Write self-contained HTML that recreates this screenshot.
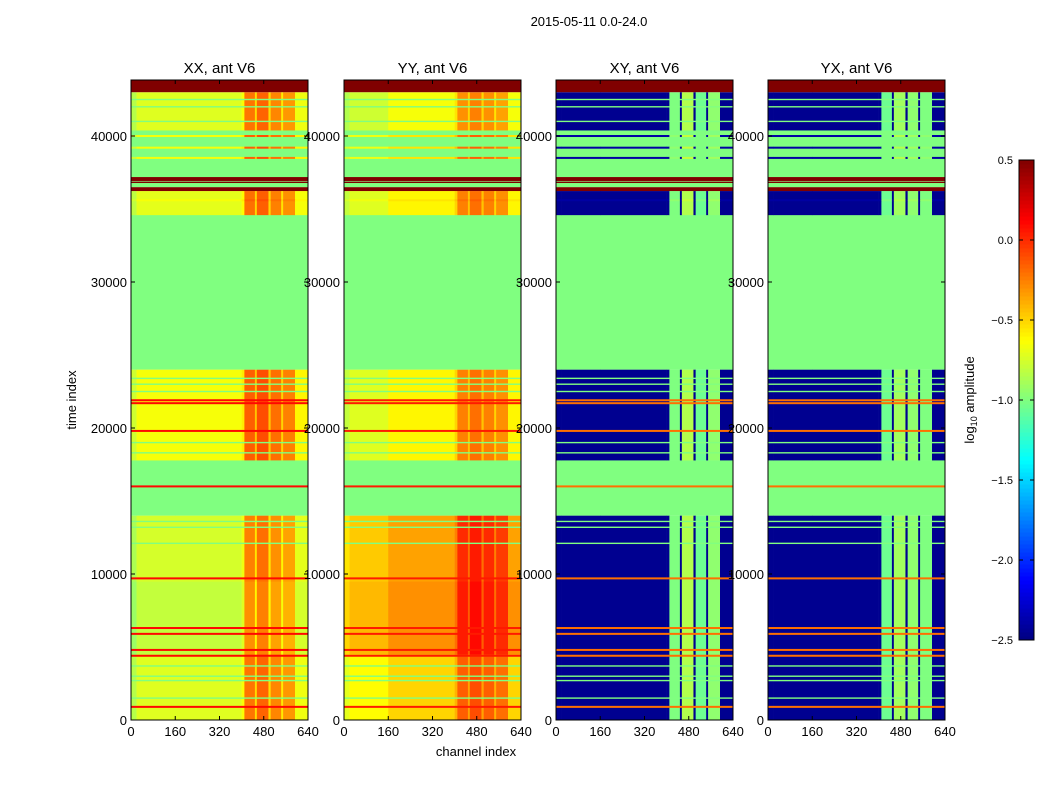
<!DOCTYPE html>
<html><head><meta charset="utf-8">
<style>
body{margin:0;background:#fff;}
svg{display:block;font-family:"Liberation Sans","DejaVu Sans",sans-serif;}
</style></head>
<body>
<svg id="fig" width="1050" height="800" viewBox="0 0 1050 800" xmlns="http://www.w3.org/2000/svg">
<rect width="1050" height="800" fill="#fff"/>
<text x="589" y="26" font-size="13" text-anchor="middle">2015-05-11 0.0-24.0</text>
<text x="476" y="756" font-size="13" text-anchor="middle">channel index</text>
<text x="0" y="0" font-size="13" text-anchor="middle" transform="translate(76,400) rotate(-90)">time index</text>
<text x="0" y="0" font-size="13" text-anchor="middle" transform="translate(974,400) rotate(-90)">log<tspan font-size="9" dy="3">10</tspan><tspan dy="-3"> amplitude</tspan></text>
<g id="panels"></g>
<g id="cbar"></g>
</svg>
<script>
const panelTitles=["XX, ant V6","YY, ant V6","XY, ant V6","YX, ant V6"];
const xTicks=[0,160,320,480,640];
const yTicks=[0,10000,20000,30000,40000];
const cbTicks=[-2.5,-2.0,-1.5,-1.0,-0.5,0.0,0.5];
const tMax=43836, chMax=640, vMin=-2.5, vMax=0.5;
const bandStart=[0,4500,9500,14000,17800,24000,34600,36230,36500,36780,36880,36920,37190,40400,43000];
const bandEnd=[4500,9500,14000,17800,24000,34600,36230,36500,36780,36880,36920,37190,40400,43000,43836];
const bandType=["d","d","d","f","d","f","d","r","f","r","f","r","f","d","r"];
const baseXX=[-0.72,-0.8,-0.75,0,-0.65,0,-0.7,0,0,0,0,0,0,-0.72,0];
const baseYY=[-0.5,-0.3,-0.35,0,-0.6,0,-0.6,0,0,0,0,0,0,-0.65,0];
const baseXY=[-2.45,-2.45,-2.45,0,-2.45,0,-2.45,0,0,0,0,0,0,-2.45,0];
const baseYX=[-2.45,-2.45,-2.45,0,-2.45,0,-2.45,0,0,0,0,0,0,-2.45,0];
const colEdges=[0,20,160,400,410,448,455,497,505,543,550,593,640];
const offXX=[-0.12,0,0,0.08,0.5,0.2,0.55,0.2,0.45,0.15,0.4,0.05];
const offYY=[-0.2,-0.12,0,0.1,0.35,0.15,0.4,0.15,0.35,0.1,0.3,0.0];
const offXY=[0,0,0,0,1.45,0,1.6,0,1.4,0,1.5,0];
const offYX=[0,0,0,0,1.4,0,1.55,0,1.5,0,1.45,0];
const redLinesT=[900,4400,4800,5900,6300,9700,16000,19800,21700,21900];
const redLineVal=[0.1,0.05,-0.2,-0.2];
const greenLinesT=[1500,2700,3000,3700,12100,13200,13600,18300,19000,22500,23000,23400,41000,42000,42500];
const dataLinesT=[38500,39200,40000,35600];
const dataLineVal=[-0.65,-0.55,-2.4,-2.4];
const bases=[baseXX,baseYY,baseXY,baseYX];
const offs=[offXX,offYY,offXY,offYX];
const panelX=[131,344,556,768], pw=177, pTop=80, pBot=720;
const NS="http://www.w3.org/2000/svg";
function jet(v){
  let x=(v-vMin)/(vMax-vMin); x=Math.max(0,Math.min(1,x));
  const f=(a)=>Math.max(0,Math.min(1,1.5-Math.abs(4*x-a)));
  const r=f(3),g=f(2),b=f(1);
  return "rgb("+Math.round(r*255)+","+Math.round(g*255)+","+Math.round(b*255)+")";
}
function mk(tag,attrs,parent){const e=document.createElementNS(NS,tag);for(const k in attrs)e.setAttribute(k,attrs[k]);parent.appendChild(e);return e;}
const yS=t=>pBot-(t/tMax)*(pBot-pTop);
const root=document.getElementById("panels");
for(let p=0;p<4;p++){
  const x0=panelX[p];
  const xS=c=>x0+c/chMax*pw;
  const g=mk("g",{},root);
  
  
  for(let b=0;b<bandStart.length;b++){
    const y1=yS(bandEnd[b]), y2=yS(bandStart[b]);
    if(bandType[b]!=="d"){
      const r=mk("rect",{x:x0,y:y1,width:pw,height:y2-y1,fill:jet(bandType[b]==="r"?0.5:-1.0)},g);
      
      
      continue;
    }
    for(let s=0;s<colEdges.length-1;s++){
      const r=mk("rect",{x:xS(colEdges[s]),y:y1,width:xS(colEdges[s+1])-xS(colEdges[s])+0.3,height:y2-y1+0.3,fill:jet(bases[p][b]+offs[p][s])},g);
      
      
    }
  }
  for(const t of greenLinesT){
    const r=mk("rect",{x:x0,y:yS(t)-0.7,width:pw,height:1.4,fill:jet(-1.0)},g);
    
    
  }
  for(const t of dataLinesT){
    for(let s=0;s<colEdges.length-1;s++){
      const r=mk("rect",{x:xS(colEdges[s]),y:yS(t)-1,width:xS(colEdges[s+1])-xS(colEdges[s])+0.3,height:2,fill:jet(dataLineVal[p]+offs[p][s])},g);
      
      
    }
  }
  for(const t of redLinesT){
    const r=mk("rect",{x:x0,y:yS(t)-1,width:pw,height:2,fill:jet(redLineVal[p])},g);
    
    
  }
  const fr=mk("rect",{x:x0,y:pTop,width:pw,height:pBot-pTop,fill:"none",stroke:"#000","stroke-width":1},g);
  
  
  const tt=mk("text",{x:x0+pw/2,y:pTop-7,"font-size":15,"text-anchor":"middle"},g);
  tt.textContent=panelTitles[p];
  
  
  for(const c of xTicks){
    const x=xS(c);
    mk("line",{x1:x,x2:x,y1:pBot,y2:pBot-4,stroke:"#000"},g);
    mk("line",{x1:x,x2:x,y1:pTop,y2:pTop+4,stroke:"#000"},g);
    const l=mk("text",{x:x,y:pBot+16,"font-size":13,"text-anchor":"middle"},g);
    l.textContent=c;
    
    
  }
  for(const t of yTicks){
    const y=yS(t);
    mk("line",{x1:x0,x2:x0+4,y1:y,y2:y,stroke:"#000"},g);
    mk("line",{x1:x0+pw,x2:x0+pw-4,y1:y,y2:y,stroke:"#000"},g);
    const l=mk("text",{x:x0-4,y:y+5,"font-size":13,"text-anchor":"end"},g);
    l.textContent=t;
    
    
  }
}
const cb=document.getElementById("cbar");


const cx=1019,cw=15,cTop=160,cBot=640,N=120;
for(let i=0;i<N;i++){
  const v=vMin+(i+0.5)/N*(vMax-vMin);
  const y=cBot-(i+1)/N*(cBot-cTop);
  mk("rect",{x:cx,y:y,width:cw,height:(cBot-cTop)/N+0.5,fill:jet(v)},cb);
}
mk("rect",{x:cx,y:cTop,width:cw,height:cBot-cTop,fill:"none",stroke:"#000"},cb);
for(const v of cbTicks){
  const y=cBot-(v-vMin)/(vMax-vMin)*(cBot-cTop);
  mk("line",{x1:cx,x2:cx+4,y1:y,y2:y,stroke:"#000"},cb);
  mk("line",{x1:cx+cw,x2:cx+cw-4,y1:y,y2:y,stroke:"#000"},cb);
  const l=mk("text",{x:1013,y:y+4,"font-size":11,"text-anchor":"end"},cb);
  l.textContent=(v<0?"\u2212":"")+Math.abs(v).toFixed(1);
  
  
}
</script>
</body></html>
